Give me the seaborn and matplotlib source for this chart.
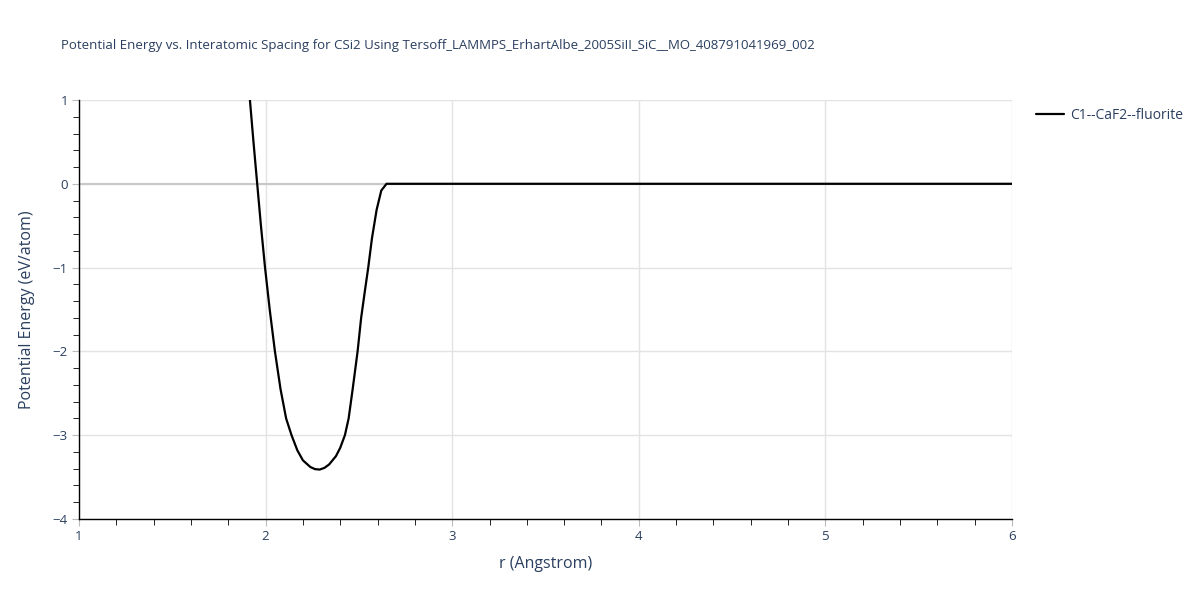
import pandas as pd
import numpy as np
import matplotlib
matplotlib.use("Agg")
import matplotlib.pyplot as plt
from matplotlib.ticker import MultipleLocator
import seaborn as sns

# values
r_vals = [1.916, 1.935, 1.955, 1.975, 1.997, 2.022, 2.050, 2.080, 2.110, 2.139,
          2.170, 2.200, 2.240, 2.265, 2.290, 2.315, 2.340, 2.377, 2.400, 2.425,
          2.445, 2.466, 2.493, 2.512, 2.532, 2.550, 2.570, 2.595, 2.620, 2.648,
          3.0, 4.0, 5.0, 6.0]
energy_vals = [1.0, 0.5, 0.0, -0.5, -1.0, -1.5, -2.0, -2.45, -2.8, -3.0,
               -3.18, -3.3, -3.38, -3.405, -3.41, -3.39, -3.35, -3.25, -3.15, -3.0,
               -2.8, -2.46, -2.0, -1.6, -1.28, -1.0, -0.65, -0.31, -0.08, 0.0,
               0.0, 0.0, 0.0, 0.0]
series_name = "C1--CaF2--fluorite"
title = "Potential Energy vs. Interatomic Spacing for CSi2 Using Tersoff_LAMMPS_ErhartAlbe_2005SiII_SiC__MO_408791041969_002"

df = pd.DataFrame({"r": r_vals, "energy": energy_vals, "structure": series_name})

sns.set_style("white")
plt.rcParams['font.family'] = ['Open Sans', 'DejaVu Sans']
text_col = "#2a3f5f"

fig = plt.figure(figsize=(12, 6), dpi=100)
ax = fig.add_axes([79 / 1200, 1 - 519 / 600, (1012 - 79) / 1200, (519 - 100) / 600])

sns.lineplot(data=df, x="r", y="energy", hue="structure", palette=["black"],
             linewidth=1.6, ax=ax, zorder=3)

ax.set_xlim(1, 6)
ax.set_ylim(-4, 1)
ax.xaxis.set_major_locator(MultipleLocator(1))
ax.xaxis.set_minor_locator(MultipleLocator(0.2))
ax.yaxis.set_major_locator(MultipleLocator(1))
ax.yaxis.set_minor_locator(MultipleLocator(0.2))

ax.grid(True, which="major", color="#e3e3e3", linewidth=1)
ax.axhline(0, color="#c8c8c8", linewidth=1.5, zorder=1)

for side in ["top", "right"]:
    ax.spines[side].set_visible(False)
for side in ["left", "bottom"]:
    ax.spines[side].set_color("black")
    ax.spines[side].set_linewidth(1)

ax.tick_params(which="major", direction="out", length=5, color="#bbbbbb",
               labelsize=9.5, labelcolor=text_col, pad=3)
ax.tick_params(which="minor", direction="out", length=4, color="black")
ax.tick_params(axis="both", which="both", bottom=True, left=True)

ax.set_xlabel("r (Angstrom)", fontsize=11.5, color=text_col, labelpad=9)
ax.set_ylabel("Potential Energy (eV/atom)", fontsize=11.5, color=text_col)
ax.yaxis.set_label_coords(-0.047, 0.5)

fig.text(61 / 1200, 1 - 45 / 600, title, fontsize=9.5, color=text_col, va="center")

ax.legend(loc="upper left", bbox_to_anchor=(1.017, 1.0), frameon=False,
          fontsize=10, labelcolor=text_col, handlelength=2.0, handletextpad=0.45,
          borderaxespad=0.2)

fig.savefig("out.png", dpi=100)
